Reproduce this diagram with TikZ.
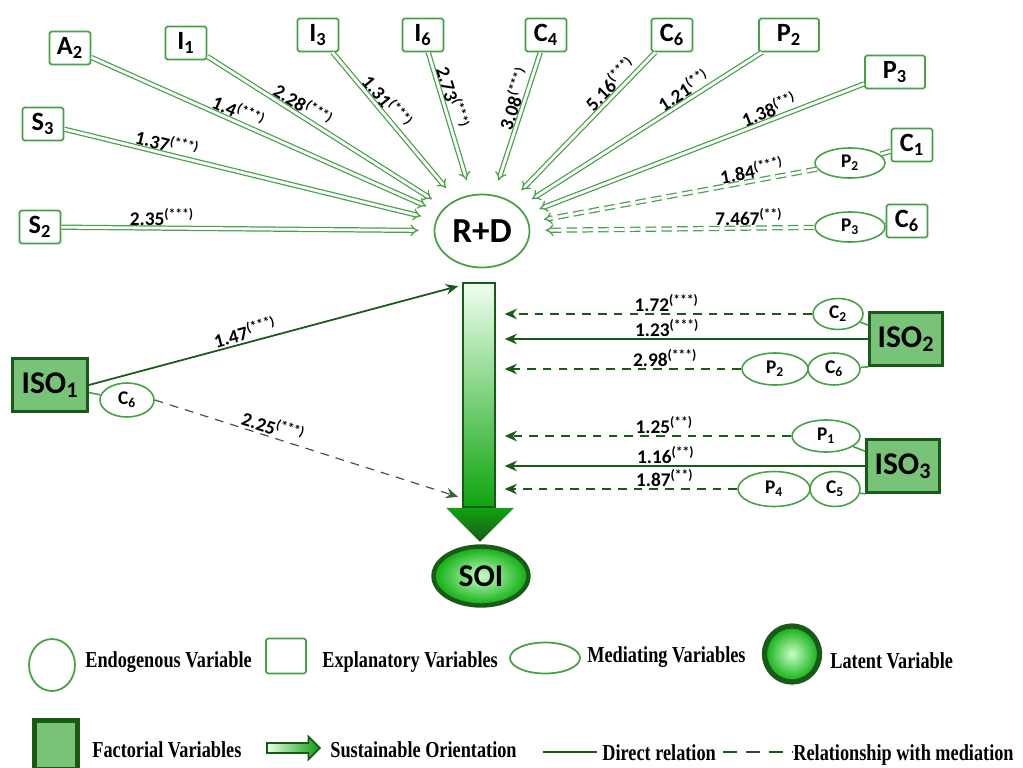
\documentclass[tikz,border=0pt]{standalone}
\usepackage{fontspec}
\setsansfont{Carlito}
\newfontfamily\legfont[FakeStretch=0.8]{Liberation Serif}
\usetikzlibrary{arrows.meta,calc,shapes.geometric,shapes.arrows}
\definecolor{lgreen}{RGB}{70,160,70}
\definecolor{dgreen}{RGB}{25,90,25}
\definecolor{fgreen}{RGB}{120,195,120}
\tikzset{
  expl/.style={draw=lgreen,line width=1pt,fill=white,rounded corners=1pt,minimum width=0.82cm,minimum height=0.66cm,inner sep=1pt,font=\sffamily\bfseries\fontsize{15}{16}\selectfont},
  medi/.style={ellipse,draw=lgreen,line width=0.9pt,fill=white,minimum width=1.4cm,minimum height=0.6cm,inner sep=0pt,font=\sffamily\bfseries\fontsize{11}{12}\selectfont},
  fact/.style={draw=dgreen,line width=1.6pt,fill=fgreen,minimum width=1.5cm,minimum height=1.06cm,inner sep=1pt,font=\sffamily\bfseries\fontsize{18}{20}\selectfont},
  latent/.style={ellipse,draw=dgreen,line width=2.5pt,inner color=green!22!white,outer color=green!50!dgreen},
  dbl/.style={draw=lgreen,double=white,double distance=1.6pt,line width=0.7pt,-{Implies},shorten >=0.3cm},
  dbldash/.style={dbl,dash pattern=on 6pt off 3pt},
  direct/.style={draw=dgreen,line width=1pt,-{Stealth[length=7pt,width=6pt]}},
  medrel/.style={direct,dash pattern=on 5pt off 4pt},
  coef/.style={font=\sffamily\bfseries\fontsize{11}{12}\selectfont,inner sep=1pt},
  legtext/.style={anchor=base west,font=\legfont\bfseries\fontsize{13}{15}\selectfont,inner sep=0pt}
}
\begin{document}
\begin{tikzpicture}[x=0.02cm,y=-0.02cm]
\useasboundingbox (0,0) rectangle (1023,767);
% endogenous variable
\node[ellipse,draw=lgreen,line width=1pt,minimum width=1.9cm,minimum height=1.46cm,inner sep=0pt,font=\sffamily\bfseries\fontsize{20}{22}\selectfont] (rd) at (482,231) {R+D};
% explanatory variables
\node[expl] (a2) at (70,48) {A\textsubscript{2}};
\node[expl] (i1) at (186,43) {I\textsubscript{1}};
\node[expl] (i3) at (318,35) {I\textsubscript{3}};
\node[expl] (i6) at (423,35) {I\textsubscript{6}};
\node[expl] (s3) at (43,124) {S\textsubscript{3}};
\node[expl] (s2) at (40,227) {S\textsubscript{2}};
\node[expl] (c4) at (546,35) {C\textsubscript{4}};
\node[expl] (c6) at (672,35) {C\textsubscript{6}};
\node[expl,minimum width=1.2cm] (p2) at (789,35) {P\textsubscript{2}};
\node[expl,minimum width=1.2cm] (p3) at (895,72) {P\textsubscript{3}};
\node[expl] (c1) at (912,145) {C\textsubscript{1}};
\node[expl] (c6b) at (907,221) {C\textsubscript{6}};
\node[medi] (mp2) at (850,163) {P\textsubscript{2}};
\node[medi] (mp3) at (850,227) {P\textsubscript{3}};
\draw[dbl] (s2) -- node[coef,above,sloped,pos=0.27]{2.35\textsuperscript{(***)}} (rd);
\draw[dbl] (s3) -- node[coef,above,sloped,pos=0.27]{1.37\textsuperscript{(***)}} (rd);
\draw[dbl] (a2) -- node[coef,above,sloped,pos=0.41]{1.4\textsuperscript{(***)}} (rd);
\draw[dbl] (i1) -- node[coef,above,sloped,pos=0.38]{2.28\textsuperscript{(***)}} (rd);
\draw[dbl] (i3) -- node[coef,above,sloped,pos=0.38]{1.31\textsuperscript{(***)}} (rd);
\draw[dbl] (i6) -- node[coef,above,sloped,pos=0.34]{2.73\textsuperscript{(***)}} (rd);
\draw[dbl] (c4) -- node[coef,above,sloped,pos=0.35]{3.08\textsuperscript{(***)}} (rd);
\draw[dbl] (c6) -- node[coef,above,sloped,pos=0.26]{5.16\textsuperscript{(***)}} (rd);
\draw[dbl] (p2) -- node[coef,above,sloped,pos=0.3]{1.21\textsuperscript{(**)}} (rd);
\draw[dbl] (p3) -- node[coef,above,sloped,pos=0.27]{1.38\textsuperscript{(**)}} (rd);
\draw[dbldash] (mp2) -- node[coef,above,sloped,pos=0.22]{1.84\textsuperscript{(***)}} (rd);
\draw[dbldash] (mp3) -- node[coef,above,sloped,pos=0.23]{7.467\textsuperscript{(**)}} (rd);
\draw[dbldash,-,shorten >=0pt] (c1) -- (mp2);
\draw[lgreen,line width=0.9pt] (c6b) -- (mp3);
% sustainable orientation arrow
\node[draw=dgreen,line width=1pt,top color=green!6!white,bottom color=green!45!dgreen,minimum width=0.64cm,minimum height=4.48cm,inner sep=0pt] (shaft) at (479,395) {};
\shade[top color=green!45!dgreen,bottom color=dgreen] ($(shaft.south west)+(-16,0)$) -- ($(shaft.south east)+(18,0)$) -- ($(shaft.south)+(1,34)$) -- cycle;
\node[latent,minimum width=1.9cm,minimum height=1.18cm,inner sep=0pt,font=\sffamily\bfseries\fontsize{18}{20}\selectfont] (soi) at (481,576) {SOI};
% factorial variables
\node[fact] (iso1) at (50,385) {ISO\textsubscript{1}};
\node[fact,minimum width=1.46cm] (iso2) at (906,339) {ISO\textsubscript{2}};
\node[fact,minimum width=1.46cm] (iso3) at (903,466) {ISO\textsubscript{3}};
% mediating variables
\node[medi,minimum width=1.08cm,minimum height=0.68cm] (m1c6) at (127,400) {C\textsubscript{6}};
\node[medi,minimum width=1cm,minimum height=0.62cm] (m2c2) at (838,314) {C\textsubscript{2}};
\node[medi,minimum width=1.32cm,minimum height=0.64cm] (m2p2) at (775,369) {P\textsubscript{2}};
\node[medi,minimum width=1.04cm,minimum height=0.64cm] (m2c6) at (834,369) {C\textsubscript{6}};
\node[medi,minimum width=1.36cm,minimum height=0.64cm] (m3p1) at (826,436) {P\textsubscript{1}};
\node[medi,minimum width=1.44cm,minimum height=0.7cm] (m3p4) at (774,489) {P\textsubscript{4}};
\node[medi,minimum width=1cm,minimum height=0.7cm] (m3c5) at (835,489) {C\textsubscript{5}};
\draw[lgreen,line width=0.9pt] (iso1) -- (m1c6);
\draw[lgreen,line width=0.9pt] (iso2) -- (m2c2);
\draw[lgreen,line width=0.9pt] (iso2.south west) -- (m2c6);
\draw[lgreen,line width=0.9pt] (iso3) -- (m3p1);
\draw[lgreen,line width=0.9pt] (iso3.south west) -- (m3c5);
\draw[direct] (iso1.east) -- node[coef,above,sloped,pos=0.43]{1.47\textsuperscript{(***)}} ($(shaft.north west)+(-4,4)$);
\draw[medrel,line width=0.7pt,draw=dgreen!70!gray] (m1c6.east) -- node[coef,above,sloped,pos=0.38]{2.25\textsuperscript{(***)}} ($(shaft.south west)+(-4,-11)$);
\draw[medrel,shorten >=5pt] (m2c2.west) -- node[coef,above,pos=0.46]{1.72\textsuperscript{(***)}} (m2c2.west -| shaft.east);
\draw[direct,shorten >=5pt] (iso2.west) -- node[coef,above,pos=0.54]{1.23\textsuperscript{(***)}} (iso2.west -| shaft.east);
\draw[medrel,shorten >=5pt] (m2p2.west) -- node[coef,above,pos=0.31]{2.98\textsuperscript{(***)}} (m2p2.west -| shaft.east);
\draw[medrel,shorten >=5pt] (m3p1.west) -- node[coef,above,pos=0.43]{1.25\textsuperscript{(**)}} (m3p1.west -| shaft.east);
\draw[direct,shorten >=5pt] (iso3.west) -- node[coef,above,pos=0.54]{1.16\textsuperscript{(**)}} (iso3.west -| shaft.east);
\draw[medrel,shorten >=5pt] (m3p4.west) -- node[coef,above,pos=0.3]{1.87\textsuperscript{(**)}} (m3p4.west -| shaft.east);
% legend
\node[ellipse,draw=lgreen,line width=1pt,minimum width=0.92cm,minimum height=1.04cm] (lendo) at (52,665) {};
\node[legtext] (tendo) at (85,667) {Endogenous Variable};
\node[draw=lgreen,line width=1pt,rounded corners=1pt,minimum width=0.8cm,minimum height=0.7cm] (lexpl) at (286,656) {};
\node[legtext] (texpl) at (322,667) {Explanatory Variables};
\node[ellipse,draw=lgreen,line width=1pt,minimum width=1.4cm,minimum height=0.62cm] (lmedi) at (545,658) {};
\node[legtext] (tmedi) at (587,662) {Mediating Variables};
\node[latent,line width=3pt,minimum width=1.1cm,minimum height=1.12cm] (llat) at (792,654) {};
\node[legtext] (tlat) at (830,668) {Latent Variable};
\node[draw=dgreen,line width=2.5pt,fill=fgreen,minimum width=0.86cm,minimum height=0.98cm] (lfact) at (56,745) {};
\node[legtext] (tfact) at (92,757) {Factorial Variables};
\node[single arrow,draw=dgreen,line width=1pt,left color=green!10!white,right color=green!40!dgreen,minimum height=1.06cm,minimum width=0.46cm,single arrow head extend=2pt,inner sep=1pt] (lsust) at (291,748) {};
\node[legtext] (tsust) at (330,757) {Sustainable Orientation};
\coordinate (ld1) at (543,752);
\coordinate (ld2) at (597,752);
\draw[dgreen,line width=1.2pt] (ld1) -- (ld2);
\node[legtext] (tdir) at (602,760) {Direct relation};
\coordinate (lm1) at (723,752);
\coordinate (lm2) at (793,752);
\draw[dgreen,line width=1.2pt,dash pattern=on 8pt off 5pt] (lm1) -- (lm2);
\node[legtext] (tmed) at (793,760) {Relationship with mediation};
\end{tikzpicture}
\end{document}
